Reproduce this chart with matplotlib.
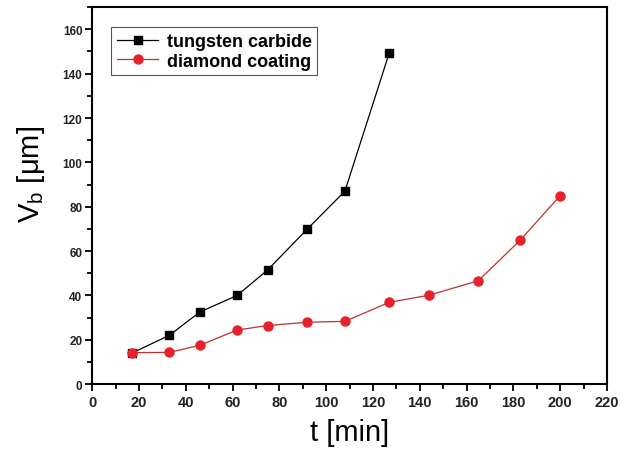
import matplotlib
matplotlib.use('Agg')
import matplotlib.pyplot as plt
from matplotlib.ticker import MultipleLocator

plt.rcParams['font.family'] = ['Liberation Sans', 'DejaVu Sans']
plt.rcParams['mathtext.fontset'] = 'custom'
plt.rcParams['mathtext.rm'] = 'Liberation Sans'
plt.rcParams['mathtext.it'] = 'Liberation Sans'

#### data
t_wc = [17, 33, 46, 62, 75, 92, 108, 127]
vb_wc = [14, 22, 32.5, 40, 51.5, 70, 87, 149.5]

t_dc = [17, 33, 46, 62, 75, 92, 108, 127, 144, 165, 183, 200]
vb_dc = [14.2, 14.3, 17.5, 24.4, 26.4, 27.9, 28.3, 36.9, 40.1, 46.6, 65, 85]

xticks = list(range(0, 221, 20))
yticks = list(range(0, 161, 20))

#### plot
fig = plt.figure(figsize=(6.31, 4.52), dpi=100)
ax = fig.add_axes([0.146, 0.148, 0.816, 0.834])

ax.plot(t_wc, vb_wc, color='black', lw=0.9, marker='s', ms=6,
        mfc='black', mec='black', label='tungsten carbide')
ax.plot(t_dc, vb_dc, color='#c0302c', lw=0.9, marker='o', ms=6.5,
        mfc='#e8202a', mec='#e8202a', label='diamond coating')

ax.set_xlim(0, 220)
ax.set_ylim(0, 170)
ax.set_xticks(xticks)
ax.set_yticks(yticks)
ax.xaxis.set_minor_locator(MultipleLocator(10))
ax.yaxis.set_minor_locator(MultipleLocator(10))
ax.tick_params(which='both', direction='out', width=1.3, top=False, right=False)
ax.tick_params(which='major', length=5)
ax.tick_params(which='minor', length=3.5)
ax.tick_params(axis='x', labelsize=10.5, pad=3)
ax.tick_params(axis='y', labelsize=8.5, pad=2)
for lab in ax.get_xticklabels() + ax.get_yticklabels():
    lab.set_fontweight('bold')
    lab.set_color('#222222')
for sp in ax.spines.values():
    sp.set_linewidth(1.5)

ax.set_xlabel('t [min]', fontsize=21, labelpad=6)
ax.set_ylabel('V$_\\mathrm{b}$ [μm]', fontsize=21)
ax.yaxis.set_label_coords(-0.088, 0.56)

leg = ax.legend(loc='upper left', bbox_to_anchor=(0.02, 0.97), fancybox=False,
                edgecolor='#555555', framealpha=1, borderpad=0.3,
                handlelength=2.3, handletextpad=0.45, labelspacing=0.15,
                prop={'weight': 'bold', 'size': 13})
leg.get_frame().set_linewidth(0.8)

fig.savefig('out.png', dpi=100)
